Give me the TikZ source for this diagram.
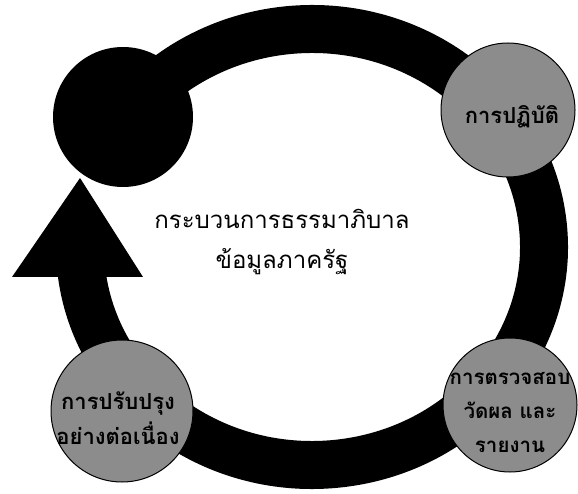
\documentclass[tikz,border=0pt]{standalone}
\usepackage{fontspec}
\usetikzlibrary{calc}
\newfontfamily\thaifont[Script=Thai]{Loma}
\tikzset{
  bubble/.style={circle, fill=black!45, draw=black, line width=1pt, inner sep=0pt},
  bubbletext/.style={align=center, inner sep=0pt, text=black,
    font=\thaifont\bfseries\fontsize{22}{35}\selectfont},
  darkball/.style={circle, fill=black, inner sep=0pt},
  band/.style={line width=48pt, draw=black},
  headtri/.style={fill=black},
  title/.style={align=center, font=\thaifont\fontsize{24}{40}\selectfont, text=black}
}
\begin{document}
\begin{tikzpicture}[x=1pt,y=1pt]
\useasboundingbox (0,0) rectangle (578,-494);
\fill[white] (0,0) rectangle (578,-494);
% ring centre
\coordinate (c) at (312,-247);
\coordinate (tail) at ($(c)+(186:232 and 218)$);
% ring band
\draw[band] (tail) arc[start angle=186, end angle=504, x radius=232, y radius=218];
% arrow head
\coordinate (tip) at (80,-178);
\coordinate (bl) at (12,-277);
\coordinate (br) at (143,-277);
\fill[headtri] (bl) -- (tip) -- (br) -- cycle;
% circles
\node[darkball, minimum size=140pt] (start) at (123,-117) {};
\node[bubble, minimum size=134pt] (act) at (508,-110) {};
\node[bubble, minimum size=134pt] (check) at (510,-405) {};
\node[bubble, minimum size=142pt] (improve) at (122,-411) {};
% circle texts
\node[bubbletext] (actt) at (512,-117) {การปฏิบัติ};
\node[bubbletext, font=\thaifont\bfseries\fontsize{20.5}{34}\selectfont] (checkt) at (510,-412) {การตรวจสอบ\\วัดผล และ\\รายงาน};
\node[bubbletext] (improvet) at (118,-418) {การปรับปรุง\\อย่างต่อเนื่อง};
% title
\node[title] (t) at (282,-242) {กระบวนการธรรมาภิบาล\\ข้อมูลภาครัฐ};
\end{tikzpicture}
\end{document}
